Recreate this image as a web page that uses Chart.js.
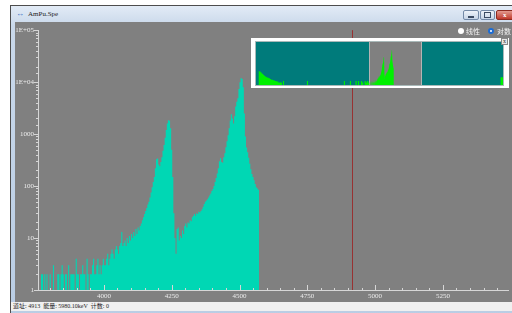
<!DOCTYPE html>
<html>
<head>
<meta charset="utf-8">
<script src="https://cdn.jsdelivr.net/npm/chart.js@4"></script>
<style>
  body { margin: 0; width: 512px; height: 313px; background: #fff; position: relative; overflow: hidden; font-family: "Liberation Serif", "Noto Sans CJK SC", serif; }
  .abs { position: absolute; }
  #frame { left: 10px; top: 5px; width: 510px; height: 320px; background: linear-gradient(#e2ebf6, #c9d8ea 20px, #b9cde4); border-left: 1px solid #4d4d4d; border-top: 1px solid #4d4d4d; }
  #title { left: 28px; top: 10px; font-size: 7px; color: #1b1b1b; }
  #icon { left: 16px; top: 9px; font-size: 8px; color: #3a6fc4; }
  .btn { top: 10px; height: 8px; border: 1px solid #7389a6; border-radius: 2px; background: linear-gradient(#eef3f9, #c6d4e6); }
  #panel { left: 15px; top: 22px; width: 497px; height: 280px; background: #808080; }
  #main { left: 15px; top: 22px; }
  #status { left: 11px; top: 302px; width: 501px; height: 9px; background: #f0f0f0; font-size: 6px; line-height: 9px; color: #222; white-space: pre; padding-left: 2px; }
  #inset { left: 251px; top: 38px; width: 258px; height: 50px; background: #fff; }
  #ovwrap { left: 255px; top: 41px; width: 247px; height: 43px; border: 1px solid #a9b9b9; background: #007b7b; }
  .radio { top: 28px; width: 6px; height: 6px; border-radius: 50%; background: #fff; box-sizing: border-box; }
  .rtext { top: 26px; font-size: 7px; color: #f2f2f2; font-family: "Noto Sans CJK SC", sans-serif; }
</style>
</head>
<body>
<div id="frame" class="abs"></div>
<div id="icon" class="abs">&#8596;</div>
<div id="title" class="abs">AmPu.Spe</div>
<div class="abs btn" style="left:463px;width:14px;"><div class="abs" style="left:4px;top:5px;width:6px;height:2px;background:#3b4b63;"></div></div>
<div class="abs btn" style="left:480px;width:13px;"><div class="abs" style="left:3px;top:1px;width:5px;height:4px;border:1px solid #3b4b63;"></div></div>
<div class="abs btn" style="left:496px;width:18px;background:linear-gradient(#e39a8f,#c0392b);border-color:#8e2a20;color:#fff;font-size:7px;line-height:8px;text-indent:6px;font-weight:bold;">x</div>
<div id="panel" class="abs"></div>
<canvas id="main" class="abs" width="497" height="278"></canvas>
<div class="abs radio" style="left:458px;"></div>
<div class="abs rtext" style="left:466px;">线性</div>
<div class="abs radio" style="left:488px;border:2px solid #1c6cd4;"></div>
<div class="abs rtext" style="left:497px;">对数</div>
<div id="inset" class="abs"></div>
<div id="ovwrap" class="abs"><canvas id="overview" width="247" height="43"></canvas></div>
<div class="abs" style="left:501px;top:38px;width:5px;height:5px;border:1px solid #888;background:#e8e8e8;font-size:6px;line-height:5px;text-align:center;color:#333;">x</div>
<div id="status" class="abs">道址: 4913  能量: 5980.10keV  计数: 0</div>

<script>
// spectrum, 4-channel bins starting at channel 3768
const binStart = 3768;
const binWidth = 4;
const counts = [
  2,2,1,2,1,2,1,1,2,1, 1,3,1,1,1,2,2,1,2,3, 2,1,2,2,1,3,1,2,2,2,
  2,1,4,2,2,1,2,2,3,2, 2,1,4,2,1,2,2,3,4,2, 2,3,4,2,3,2,
  3,4,3,3,4,5,3,4,5,6, 5,4,6,7,6,5,7,8,13,7, 8,9,7,10,8,11,9,12,
  10,13,11,15,12,16,14,
  17,19,22,25,29,33,38,44,50,60,
  75,95,120,150,220,330,340,260,240,290,
  360,480,620,850,1200,1600,1850,1800,1300,500,
  150,30,10,5,15,16,9,11,10,14,
  12,17,19,16,20,19,22,21,25,27,
  29,27,30,29,32,31,
  33,36,40,45,50,53,56,60,66,72,
  80,88,100,120,143,175,220,300,345,290,
  280,360,430,560,730,950,1300,1800,2400,2000,
  1600,2200,3400,4200,4900,7400,10000,12000,11500,8000,
  2500,900,550,450,350,270,210,170,150,130,
  110,95,90,85,
  1
];

// whole-spectrum tail outside the zoomed window (overview only)
const tailChannels = [0, 90, 120, 150, 180, 210, 240, 270, 300, 340, 380, 420, 460, 500, 560, 620, 680, 740, 800, 860, 894, 930,
  1690, 1725, 2914, 2950, 3113, 3150, 3300, 3340, 3380, 3420, 3480, 3520, 3560, 3600, 3640, 3680, 3720, 3757, 8110, 8192];
const tailCounts = [1, 40, 36, 30, 24, 19, 15, 12, 10, 8, 7, 6, 5, 4, 3.5, 3, 2.5, 2, 2, 1, 3, 1,
  3, 1, 3, 1, 3, 1, 3, 1, 3, 1, 3, 2, 1, 3, 2, 3, 2, 1, 8, 8];

const viewMin = 3757;
const viewMax = 5490;
const cursorChannel = 4913;
const xMajorStep = 250;
const yMajor = [1, 10, 100, 1000, 10000, 100000];
const yTickLabels = ['1', '10', '100', '1000', '1E+04', '1E+05'];

const spectrum = counts.map((c, i) => ({x: binStart + i * binWidth, y: c}));
const tail = tailChannels.map((ch, i) => ({x: ch, y: tailCounts[i]}));

const axisColor = '#d6d6d6';
const tickFont = {family: 'Liberation Serif', size: 7};

const tickMarks = {
  id: 'tickMarks',
  afterDraw(chart) {
    const {ctx, scales: {x, y}} = chart;
    ctx.save();
    ctx.strokeStyle = axisColor;
    ctx.lineWidth = 1;
    ctx.beginPath();
    y.ticks.forEach(t => {
      const py = Math.round(y.getPixelForValue(t.value)) + 0.5;
      const len = yMajor.includes(t.value) ? 4 : 2;
      ctx.moveTo(y.right - len, py);
      ctx.lineTo(y.right + 1, py);
    });
    x.ticks.forEach(t => {
      const px = Math.round(x.getPixelForValue(t.value)) + 0.5;
      const len = t.value % xMajorStep === 0 ? 5 : 2;
      ctx.moveTo(px, x.top);
      ctx.lineTo(px, x.top - len);
    });
    ctx.stroke();
    ctx.restore();
  }
};

const cursorLine = {
  id: 'cursorLine',
  afterDatasetsDraw(chart) {
    const {ctx, chartArea, scales: {x}} = chart;
    const px = Math.round(x.getPixelForValue(cursorChannel)) + 0.5;
    ctx.save();
    ctx.strokeStyle = '#983232';
    ctx.lineWidth = 1;
    ctx.beginPath();
    ctx.moveTo(px, chartArea.top);
    ctx.lineTo(px, chartArea.bottom);
    ctx.stroke();
    ctx.restore();
  }
};

new Chart(document.getElementById('main'), {
  type: 'line',
  data: {
    datasets: [{
      data: spectrum,
      stepped: true,
      fill: 'start',
      backgroundColor: '#00d7b4',
      borderColor: 'rgba(0,0,0,0)',
      borderWidth: 0,
      pointRadius: 0
    }]
  },
  options: {
    responsive: false,
    animation: false,
    events: [],
    layout: {padding: {top: 6, right: 4, left: 0, bottom: 0}},
    plugins: {legend: {display: false}, tooltip: {enabled: false}},
    scales: {
      x: {
        type: 'linear',
        min: viewMin,
        max: viewMax,
        grid: {display: false, drawTicks: false},
        border: {color: axisColor},
        afterFit: s => { s.height = 10; },
        ticks: {
          stepSize: 50,
          includeBounds: false,
          autoSkip: false,
          maxRotation: 0,
          padding: 2,
          color: '#ececec',
          font: tickFont,
          callback: v => (v % xMajorStep === 0 ? String(v) : '')
        }
      },
      y: {
        type: 'logarithmic',
        min: 1,
        max: 100000,
        grid: {display: false, drawTicks: false},
        border: {color: axisColor},
        afterFit: s => { s.width = 23; },
        ticks: {
          autoSkip: false,
          padding: 4,
          color: '#ececec',
          font: tickFont,
          callback: v => {
            const k = yMajor.indexOf(v);
            return k >= 0 ? yTickLabels[k] : '';
          }
        }
      }
    }
  },
  plugins: [tickMarks, cursorLine]
});

const viewWindow = {
  id: 'viewWindow',
  beforeDatasetsDraw(chart) {
    const {ctx, chartArea, scales: {x}} = chart;
    const x0 = Math.round(x.getPixelForValue(viewMin));
    const x1 = Math.round(x.getPixelForValue(viewMax));
    ctx.save();
    ctx.fillStyle = '#808080';
    ctx.fillRect(x0, chartArea.top, x1 - x0, chartArea.bottom - chartArea.top);
    ctx.strokeStyle = '#b4b4b4';
    ctx.lineWidth = 1;
    ctx.beginPath();
    ctx.moveTo(x0 + 0.5, chartArea.top);
    ctx.lineTo(x0 + 0.5, chartArea.bottom);
    ctx.moveTo(x1 - 0.5, chartArea.top);
    ctx.lineTo(x1 - 0.5, chartArea.bottom);
    ctx.stroke();
    ctx.restore();
  }
};

const green = {stepped: true, fill: 'start', backgroundColor: '#00f000', borderColor: 'rgba(0,0,0,0)', borderWidth: 0, pointRadius: 0};

new Chart(document.getElementById('overview'), {
  type: 'line',
  data: {
    datasets: [
      {...green, data: tail},
      {...green, data: spectrum}
    ]
  },
  options: {
    responsive: false,
    animation: false,
    events: [],
    layout: {padding: 0},
    plugins: {legend: {display: false}, tooltip: {enabled: false}},
    scales: {
      x: {type: 'linear', display: false, min: 0, max: 8192},
      y: {type: 'logarithmic', display: false, min: 1, max: 100000}
    }
  },
  plugins: [viewWindow]
});
</script>
</body>
</html>
